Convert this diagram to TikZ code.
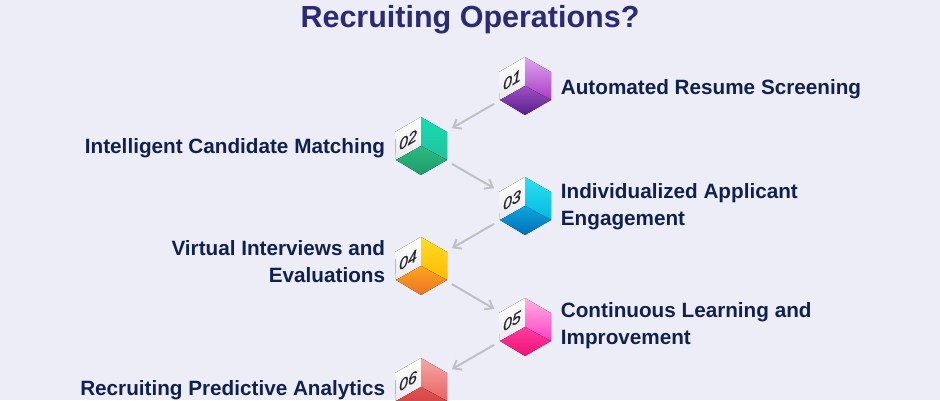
\documentclass[tikz,border=0pt]{standalone}
\usepackage{fontspec}
\setmainfont{Liberation Sans}
\newfontface\digitface{Liberation Sans Italic}[FakeBold=0.7]
\usetikzlibrary{positioning,arrows.meta}

\definecolor{pagebg}{HTML}{EDEDF8}
\definecolor{titleblue}{HTML}{2B2A75}
\definecolor{textblue}{HTML}{10214F}
\definecolor{arrowgray}{HTML}{BFBFC6}
\definecolor{digitgray}{HTML}{26262E}
\definecolor{facelow}{HTML}{E9E9EC}

\tikzset{
  cubespot/.style={circle,inner sep=0pt,minimum size=71pt},
  steplabel/.style={font=\bfseries\fontsize{20.7}{27}\selectfont,text=textblue,inner sep=0pt},
  flow/.style={draw=arrowgray,line width=2pt,-{Straight Barb[length=7pt,width=11pt,line width=2pt]}},
  cubedigits/.style={font=\digitface\fontsize{16}{16}\selectfont,text=digitgray,inner sep=0pt,yslant=0.6}
}

\begin{document}
\begin{tikzpicture}[x=1pt,y=-1pt]
  \clip (0,0) rectangle (940,400);
  \fill [pagebg] (0,0) rectangle (940,400);

  \node (title) at (470,20) [font=\bfseries\fontsize{30.5}{30.5}\selectfont,text=titleblue,inner sep=0pt] {Recruiting Operations?};

  % the six cubes
  \foreach \n/\px/\py/\num/\ca/\cb/\cc/\cd in {
    1/525/86/01/DDA6F0/A93BC4/9C50C4/5A1F8C,
    2/421/146/02/12DDB2/24C29C/2DBA82/1C9C68,
    3/525/206/03/2FE0F0/00B9E2/0EA4DC/0070BA,
    4/421/266/04/FFDD22/FFBA05/FFA41E/EA7422,
    5/525/327/05/FFB0E4/FF3FC2/FF3CA4/F01272,
    6/421/387/06/F5A6A4/E86464/E25454/C83A3A}
  {
    \definecolor{rightlight}{HTML}{\ca}
    \definecolor{rightdark}{HTML}{\cb}
    \definecolor{botlight}{HTML}{\cc}
    \definecolor{botdark}{HTML}{\cd}
    \node (cube\n) at (\px,\py) [cubespot] {};
    \begin{scope}[shift={(\px,\py)}]
      \fill [top color=white,bottom color=facelow] (0,-29) -- (-26,-14) -- (-25,14) -- (0,0) -- cycle;
      \fill [top color=rightlight,bottom color=rightdark] (0,-29) -- (26,-14) -- (26,14) -- (0,0) -- cycle;
      \fill [top color=botlight,bottom color=botdark] (0,0) -- (26,14) -- (0,29) -- (-25,14) -- cycle;
      \node (digits\n) at (-13,-6) [cubedigits] {\num};
    \end{scope}
  }

  \node (auto) [steplabel,right=0pt of cube1,yshift=-3pt] {Automated Resume Screening};
  \node (match) [steplabel,left=0pt of cube2,yshift=-2pt] {Intelligent Candidate Matching};
  \node (engage) [steplabel,right=0pt of cube3,align=left,yshift=-1pt] {Individualized Applicant\\Engagement};
  \node (interview) [steplabel,left=0pt of cube4,align=right,yshift=4pt] {Virtual Interviews and\\Evaluations};
  \node (improve) [steplabel,right=0pt of cube5,align=left,yshift=1pt] {Continuous Learning and\\Improvement};
  \node (predict) [steplabel,left=0pt of cube6,yshift=-3pt] {Recruiting Predictive Analytics};

  \foreach \a/\b in {1/2,2/3,3/4,4/5,5/6}
    \draw [flow] (cube\a) -- (cube\b);
\end{tikzpicture}
\end{document}
